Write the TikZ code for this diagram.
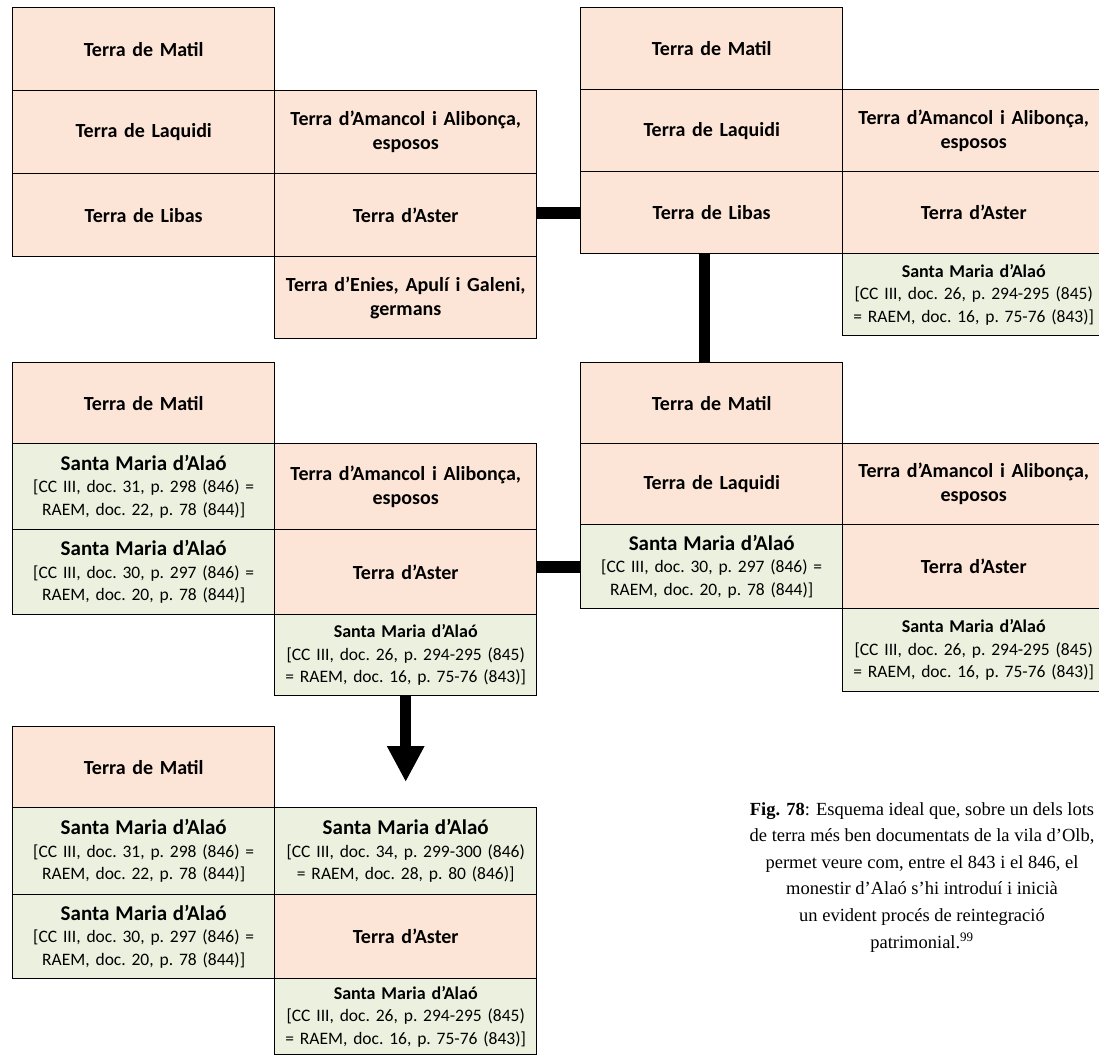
\documentclass[tikz,border=0pt]{standalone}
\usepackage{fontspec}
\setmainfont{Carlito}
\newfontfamily\capfont{Liberation Serif}
\usepackage{tikz}
\usetikzlibrary{arrows.meta,positioning,calc}
\definecolor{lotPeach}{RGB}{252,229,214}
\definecolor{lotGreen}{RGB}{235,241,222}
\newcommand\terrafont{\fontsize{20}{24}\selectfont\bfseries}
\newcommand\reffont{\fontsize{17.5}{22.5}\selectfont\frenchspacing}
\newcommand\alaobig{\fontsize{21}{24}\selectfont\bfseries}
\newcommand\alaosmall{\fontsize{18}{22.5}\selectfont\bfseries}

\begin{document}
\begin{tikzpicture}[x=1pt,y=1pt,
  cell/.style={draw=black,line width=1.4pt,anchor=north west,minimum width=262pt,
    text width=260pt,inner sep=0pt,align=center},
  terra/.style={cell,fill=lotPeach,font=\terrafont},
  alao/.style={cell,fill=lotGreen,font=\reffont},
  bar/.style={line width=12pt},
  arrowbar/.style={line width=11pt,-{Triangle[width=35pt,length=36pt]},shorten >=25pt}]
  \useasboundingbox (0,0) rectangle (1099,-1057);
  % lot, first state (top left)
  \node[terra,minimum height=83pt] (aMatil) at (12,-7) {Terra de Matil};
  \node[terra,minimum height=83pt] (aLaquidi) at (12,-90) {Terra de Laquidi};
  \node[terra,minimum height=83pt] (aLibas) at (12,-173) {Terra de Libas};
  \node[terra,minimum height=83pt] (aAmancol) at (274,-90) {Terra d’Amancol i Alibonça,\\ esposos};
  \node[terra,minimum height=83pt] (aAster) at (274,-173) {Terra d’Aster};
  \node[terra,minimum height=82pt] (aEnies) at (274,-256) {Terra d’Enies, Apulí i Galeni,\\ germans};
  % second state (top right)
  \node[terra,minimum height=82pt] (bMatil) at (580,-7) {Terra de Matil};
  \node[terra,minimum height=82pt] (bLaquidi) at (580,-89) {Terra de Laquidi};
  \node[terra,minimum height=82pt] (bLibas) at (580,-171) {Terra de Libas};
  \node[terra,minimum height=82pt] (bAmancol) at (842,-89) {Terra d’Amancol i Alibonça,\\ esposos};
  \node[terra,minimum height=82pt] (bAster) at (842,-171) {Terra d’Aster};
  \node[alao,minimum height=82pt] (bAlao26) at (842,-253) {{\alaosmall Santa Maria d’Alaó}\\\relax
    [CC III, doc. 26, p. 294-295 (845)\\ = RAEM, doc. 16, p. 75-76 (843)]};
  % third state (middle right)
  \node[terra,minimum height=81pt] (dMatil) at (580,-362) {Terra de Matil};
  \node[terra,minimum height=81pt] (dLaquidi) at (580,-443) {Terra de Laquidi};
  \node[alao,minimum height=84pt] (dAlao30) at (580,-524) {{\alaobig Santa Maria d’Alaó}\\\relax
    [CC III, doc. 30, p. 297 (846) =\\ RAEM, doc. 20, p. 78 (844)]};
  \node[terra,minimum height=81pt] (dAmancol) at (842,-443) {Terra d’Amancol i Alibonça,\\ esposos};
  \node[terra,minimum height=84pt] (dAster) at (842,-524) {Terra d’Aster};
  \node[alao,minimum height=83pt] (dAlao26) at (842,-608) {{\alaosmall Santa Maria d’Alaó}\\\relax
    [CC III, doc. 26, p. 294-295 (845)\\ = RAEM, doc. 16, p. 75-76 (843)]};
  % fourth state (middle left)
  \node[terra,minimum height=81pt] (cMatil) at (12,-362) {Terra de Matil};
  \node[alao,minimum height=86pt] (cAlao31) at (12,-443) {{\alaobig Santa Maria d’Alaó}\\\relax
    [CC III, doc. 31, p. 298 (846) =\\ RAEM, doc. 22, p. 78 (844)]};
  \node[alao,minimum height=85pt] (cAlao30) at (12,-529) {{\alaobig Santa Maria d’Alaó}\\\relax
    [CC III, doc. 30, p. 297 (846) =\\ RAEM, doc. 20, p. 78 (844)]};
  \node[terra,minimum height=86pt] (cAmancol) at (274,-443) {Terra d’Amancol i Alibonça,\\ esposos};
  \node[terra,minimum height=85pt] (cAster) at (274,-529) {Terra d’Aster};
  \node[alao,minimum height=81pt] (cAlao26) at (274,-614) {{\alaosmall Santa Maria d’Alaó}\\\relax
    [CC III, doc. 26, p. 294-295 (845)\\ = RAEM, doc. 16, p. 75-76 (843)]};
  % last state (bottom left)
  \node[terra,minimum height=81pt] (eMatil) at (12,-726) {Terra de Matil};
  \node[alao,minimum height=87pt] (eAlao31) at (12,-807) {{\alaobig Santa Maria d’Alaó}\\\relax
    [CC III, doc. 31, p. 298 (846) =\\ RAEM, doc. 22, p. 78 (844)]};
  \node[alao,minimum height=84pt] (eAlao30) at (12,-894) {{\alaobig Santa Maria d’Alaó}\\\relax
    [CC III, doc. 30, p. 297 (846) =\\ RAEM, doc. 20, p. 78 (844)]};
  \node[alao,minimum height=87pt] (eAlao34) at (274,-807) {{\alaobig Santa Maria d’Alaó}\\\relax
    [CC III, doc. 34, p. 299-300 (846)\\ = RAEM, doc. 28, p. 80 (846)]};
  \node[terra,minimum height=84pt] (eAster) at (274,-894) {Terra d’Aster};
  \node[alao,minimum height=76pt] (eAlao26) at (274,-978) {{\alaosmall Santa Maria d’Alaó}\\\relax
    [CC III, doc. 26, p. 294-295 (845)\\ = RAEM, doc. 16, p. 75-76 (843)]};
  % connectors
  \draw[bar] (bLibas.west) -- (bLibas.west -| aAster.east);
  \draw[bar,line width=11pt] ([xshift=-7pt]bLibas.south) -- ([xshift=-7pt]dMatil.north);
  \draw[bar] (dAlao30.west) -- (dAlao30.west -| cAster.east);
  \draw[arrowbar] (cAlao26.south) -- (eAlao34.north);
  % caption
  \node[anchor=north,inner sep=0pt,align=center,font=\capfont\fontsize{18.5}{26.6}\selectfont] (caption) at (922,-802)
    {{\bfseries Fig. 78}: Esquema ideal que, sobre un dels lots\\
     de terra més ben documentats de la vila d’Olb,\\
     permet veure com, entre el 843 i el 846, el\\
     monestir d’Alaó s’hi introduí i inicià\\
     un evident procés de reintegració\\
     patrimonial.\textsuperscript{99}};
\end{tikzpicture}
\end{document}
